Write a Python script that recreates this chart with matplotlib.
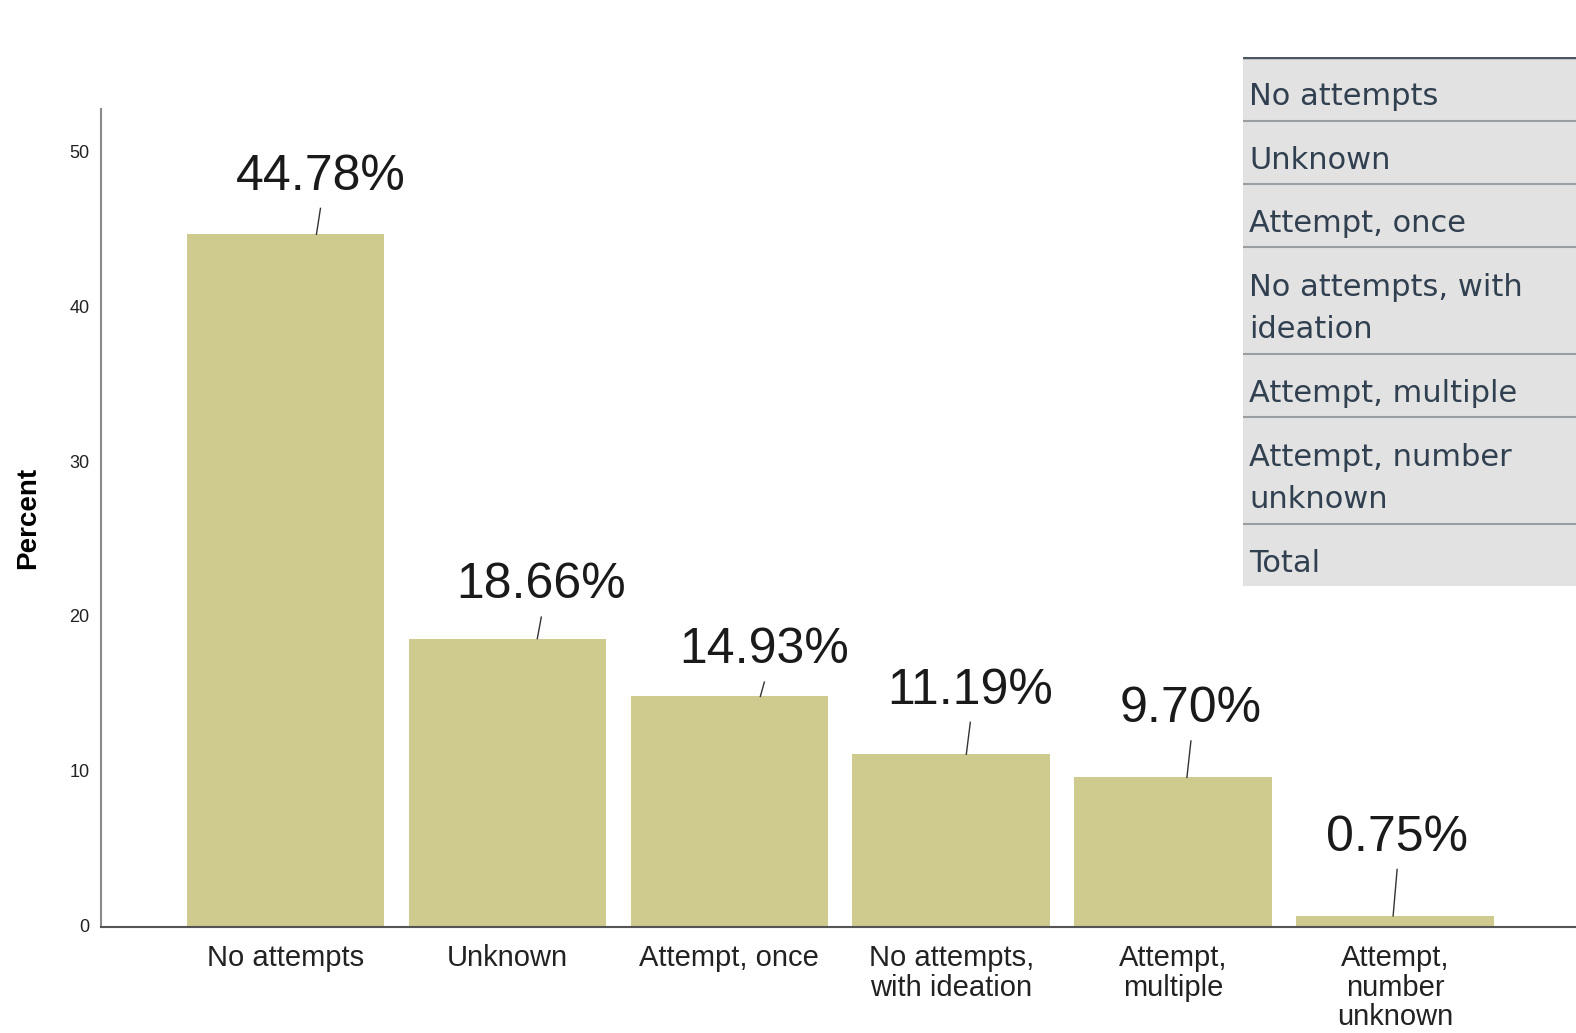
import matplotlib
matplotlib.use("Agg")
import matplotlib.pyplot as plt

# data
categories = ["No attempts", "Unknown", "Attempt, once",
              "No attempts,\nwith ideation", "Attempt,\nmultiple",
              "Attempt,\nnumber\nunknown"]
percent = [44.78, 18.66, 14.93, 11.19, 9.70, 0.75]
yticks = [0, 10, 20, 30, 40, 50]

# rows of the pasted frequency table (top right)
table_rows = ["No attempts", "Unknown", "Attempt, once",
              "No attempts, with\nideation", "Attempt, multiple",
              "Attempt, number\nunknown", "Total"]

# where the value labels sit (layout only)
label_dx = [0.158, 0.153, 0.158, 0.086, 0.080, 0.009]
label_y = [48.5, 22.1, 17.9, 15.3, 14.1, 5.8]

bar_color = "#cfca8e"

fig = plt.figure(figsize=(15.76, 10.33), dpi=100)
ax = fig.add_axes([100 / 1568, 1 - 923 / 1028, 1 - 100 / 1568, 815 / 1028])

x = list(range(len(categories)))
ax.bar(x, percent, width=0.89, color=bar_color, zorder=2)

ax.set_xlim(-0.833, 5.815)
ax.set_ylim(0, 52.9)
ax.set_yticks(yticks)
ax.set_yticklabels([str(t) for t in yticks], fontsize=13, family="Liberation Sans",
                   color="#222222", va="center")
ax.set_xticks(x)
ax.set_xticklabels(categories, fontsize=21, family="Liberation Sans", color="#222222",
                   linespacing=1.07)
ax.tick_params(axis="both", length=0)
ax.tick_params(axis="x", pad=12)
ax.tick_params(axis="y", pad=8)

for s in ["top", "right"]:
    ax.spines[s].set_visible(False)
ax.spines["left"].set_color("#8a8a8a")
ax.spines["left"].set_linewidth(1.5)
ax.spines["bottom"].set_color("#555555")
ax.spines["bottom"].set_linewidth(1.5)

ax.set_ylabel("Percent", fontsize=20, fontweight="bold", family="Liberation Sans", labelpad=20)

# value labels with short leader lines
for i, v in enumerate(percent):
    tx = i + label_dx[i]
    ty = label_y[i]
    ax.text(tx, ty, f"{v:.2f}%", ha="center", va="center", fontsize=36,
            family="Liberation Sans", color="#1a1a1a", zorder=4)
    ax.plot([tx - 0.018, tx], [v, ty - 2.05], color="#333333", lw=1.0, zorder=3)

# frequency table pasted over the top right corner
tab = fig.add_axes([1237 / 1568, 1 - 583 / 1028, 1 - 1237 / 1568, 526 / 1028])
tab.set_xlim(0, 331)
tab.set_ylim(526, 0)
tab.axis("off")
tab.add_patch(plt.Rectangle((0, 0), 331, 526, facecolor="#e2e2e2", edgecolor="none"))
tab.plot([0, 331], [0, 0], color="#4c5660", lw=2.5)
y0 = 0
for row in table_rows:
    h = 63 + 43 * row.count("\n")
    tab.text(6, y0 + h / 2 + 8, row, ha="left", va="center", fontsize=22,
             family="DejaVu Sans", color="#314050", linespacing=1.55)
    y0 += h
    if y0 < 520:
        tab.plot([0, 331], [y0, y0], color="#9a9ea3", lw=1.5)

fig.savefig("out.png", dpi=100)
